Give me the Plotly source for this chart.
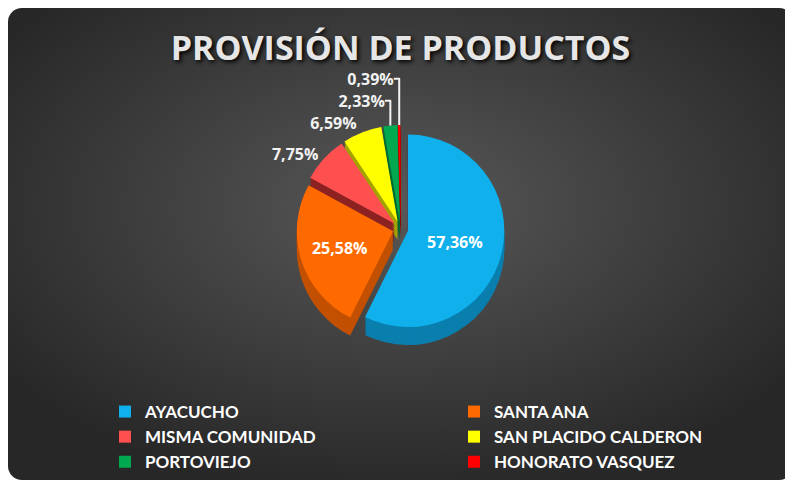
import base64
import plotly.graph_objects as go

# ---- data ----
labels = ["AYACUCHO", "SANTA ANA", "MISMA COMUNIDAD",
          "SAN PLACIDO CALDERON", "PORTOVIEJO", "HONORATO VASQUEZ"]
values = [57.36, 25.58, 7.75, 6.59, 2.33, 0.39]
title_text = "PROVISIÓN DE PRODUCTOS"

# ---- style ----
top_colors = ["#0fb0ec", "#ff6a00", "#ff5050", "#ffff00", "#00a84f", "#ff0000"]
side_colors = ["#0a7fae", "#c25000", "#8c2222", "#a3a300", "#006b32", "#9a0000"]
text_pos = ["inside", "inside", "outside", "outside", "outside", "outside"]
pull = [0.08] * len(values)

W, H = 785, 472

svg = f'''<svg xmlns="http://www.w3.org/2000/svg" width="{W}" height="{H}" viewBox="0 0 {W} {H}">
<defs><radialGradient id="g" cx="50%" cy="42%" r="62%">
<stop offset="0" stop-color="#585858"/><stop offset="0.55" stop-color="#3d3d3d"/>
<stop offset="1" stop-color="#272727"/></radialGradient></defs>
<rect x="0" y="0" width="{W}" height="{H}" rx="14" ry="14" fill="url(#g)"/></svg>'''
src = "data:image/svg+xml;base64," + base64.b64encode(svg.encode()).decode()

fig = go.Figure()

# pie top face domain (fig px)
top_px, bot_px = 117, 325
x_dom = [0.1, 0.9]
depths = list(range(18, 0, -2))
for d in depths:
    fig.add_trace(go.Pie(
        labels=labels, values=values, sort=False, direction="clockwise",
        rotation=0, pull=pull, textinfo="none", hoverinfo="skip",
        showlegend=False,
        marker=dict(colors=side_colors, line=dict(width=0)),
        domain=dict(x=x_dom, y=[1 - (bot_px + d) / H, 1 - (top_px + d) / H]),
    ))

fig.add_trace(go.Pie(
    labels=labels, values=values, sort=False, direction="clockwise",
    rotation=0, pull=pull,
    texttemplate="%{value:.2f}%", textposition=text_pos,
    insidetextorientation="horizontal",
    insidetextfont=dict(family="Open Sans", size=16, color="white", weight="bold"),
    outsidetextfont=dict(family="Open Sans", size=16, color="#f2f2f2", weight="bold"),
    marker=dict(colors=top_colors, line=dict(width=0)),
    domain=dict(x=x_dom, y=[1 - bot_px / H, 1 - top_px / H]),
))

fig.update_layout(
    width=W, height=H,
    margin=dict(l=0, r=0, t=0, b=0, autoexpand=False),
    paper_bgcolor="white",
    separators=",.",
    title=dict(text=title_text, x=0.5, xanchor="center", y=1 - 40 / H, yanchor="middle",
               font=dict(family="Open Sans", size=34, color="#e6e6e6", weight="bold",
                         shadow="2px 2px 4px #000")),
    images=[dict(source=src, xref="paper", yref="paper", x=0, y=1, sizex=1, sizey=1,
                 xanchor="left", yanchor="top", sizing="stretch", layer="below")],
    legend=dict(orientation="h", x=97 / W, xanchor="left", y=1 - 386 / H, yanchor="top",
                entrywidth=304, entrywidthmode="pixels",
                font=dict(family="Lato", size=17, color="white", weight="bold"),
                bgcolor="rgba(0,0,0,0)", traceorder="normal"),
)

fig.write_html("out.html")
